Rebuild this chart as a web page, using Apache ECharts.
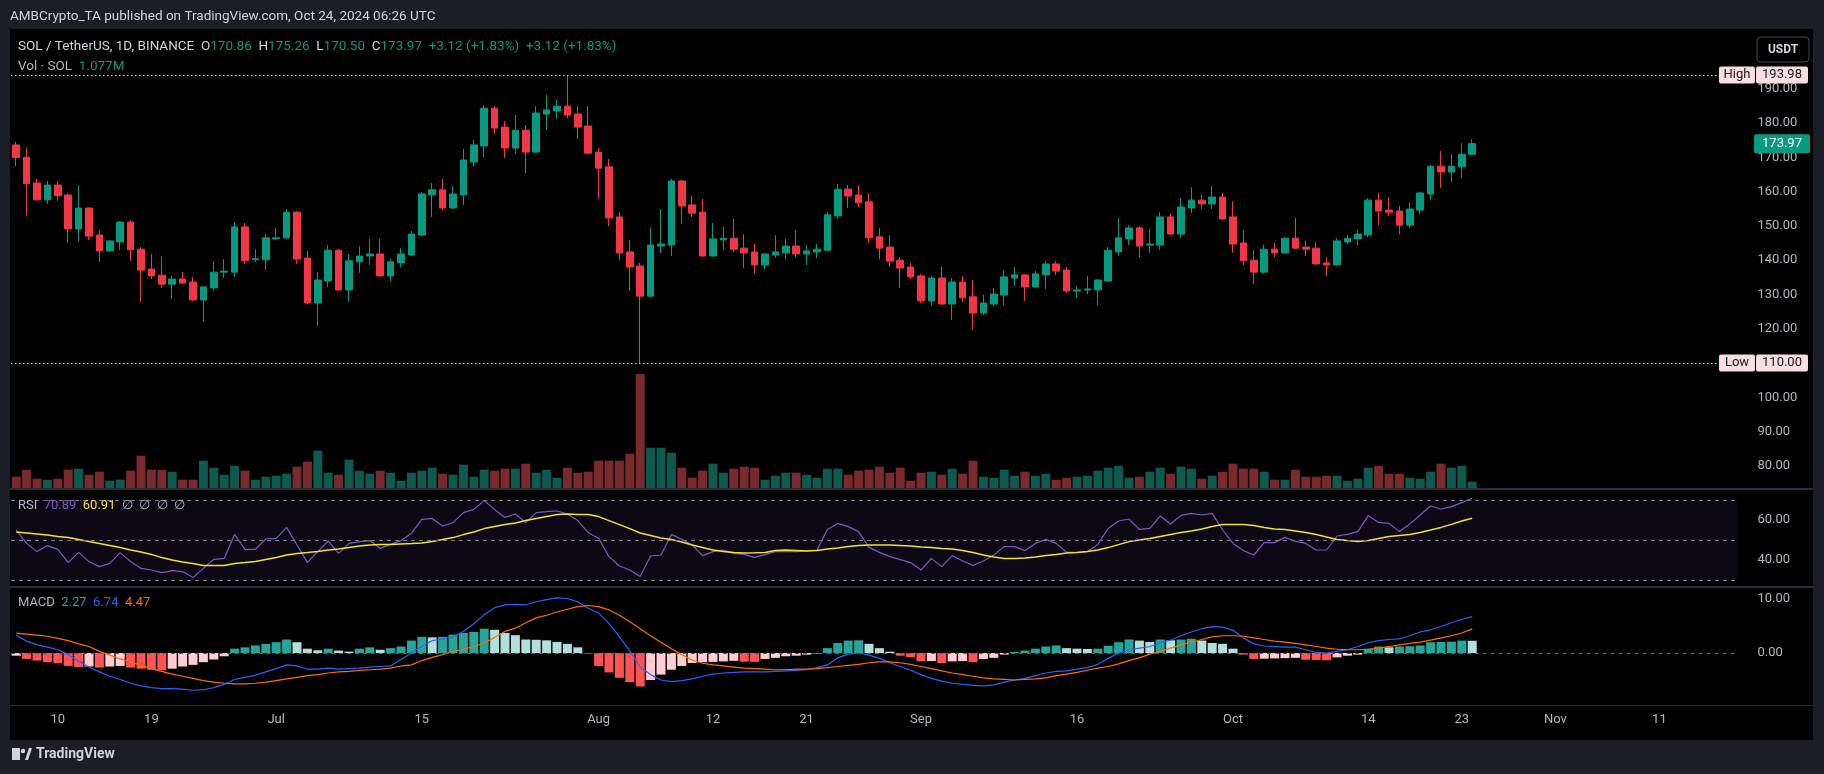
<!DOCTYPE html>
<html><head><meta charset="utf-8">
<script src="https://cdn.jsdelivr.net/npm/echarts@6/dist/echarts.min.js"></script>
<style>html,body{margin:0;padding:0;background:#000;}#c{width:1824px;height:774px;}</style>
</head><body><div id="c"></div>
<script>
// ---------- DATA ----------
const startDate = '2024-06-06';
const totalSlots = 166;
const open  = [173.6,170.0,162.5,157.6,161.9,159.0,149.1,155.2,147.3,142.7,145.3,151.1,143.2,137.4,135.6,133.0,134.5,133.6,128.4,131.9,136.5,136.5,149.7,140.1,140.1,146.2,146.5,154.0,140.6,127.5,133.9,142.9,131.3,139.5,141.2,141.8,135.4,139.2,141.5,147.3,159.0,160.5,155.2,159.0,168.6,173.3,184.3,178.8,172.7,177.9,171.5,182.6,183.5,184.9,182.6,179.1,171.5,167.2,152.6,142.4,138.3,129.5,144.1,144.4,163.1,156.1,154.0,141.2,145.9,146.4,143.5,142.4,138.6,141.5,142.1,144.1,141.8,142.4,142.9,152.9,160.7,159.0,157.0,146.8,143.8,140.0,138.0,135.4,128.1,134.8,127.2,133.6,129.3,124.6,127.2,129.8,134.8,135.7,132.2,135.7,138.9,137.1,131.0,131.3,131.3,133.9,142.4,146.2,149.4,144.4,144.4,152.6,147.6,155.2,157.5,156.4,158.4,152.6,145.0,140.0,136.5,143.2,142.1,146.4,143.8,143.5,139.2,138.6,145.3,146.2,147.3,157.5,154.6,154.3,150.2,154.6,159.3,167.4,165.7,167.2,170.86];
const high  = [174.5,172.8,163.7,163.1,163.1,159.5,161.9,155.4,148.6,145.8,151.4,151.7,143.8,141.8,141.2,135.4,136.5,135.1,132.4,139.7,140.3,151.1,150.8,143.2,147.6,149.4,154.9,154.3,142.7,136.5,144.4,143.2,141.8,144.1,146.2,146.2,140.3,143.5,148.5,159.9,162.5,163.7,161.6,172.4,175.0,185.2,184.9,180.6,182.3,179.4,184.9,188.1,186.7,193.98,184.9,184.9,172.7,169.5,154.0,145.9,139.2,149.4,154.9,163.7,163.4,158.7,157.8,150.8,149.7,152.0,147.6,144.7,142.0,147.3,146.2,148.8,144.4,144.7,154.0,162.2,161.9,161.9,159.6,149.4,147.3,140.9,139.2,136.0,135.4,138.0,134.8,135.4,134.2,129.9,131.9,137.1,138.0,136.0,136.8,139.7,139.7,138.0,132.5,135.4,134.5,143.8,152.3,150.2,149.9,149.1,154.0,153.7,158.1,161.3,159.3,161.6,159.6,157.2,148.8,142.9,144.4,145.0,146.7,152.3,145.6,145.3,140.9,146.4,147.3,148.8,158.1,159.6,158.4,155.8,156.7,159.9,167.7,171.8,170.9,174.1,175.26];
const low   = [167.4,153.0,157.3,156.4,157.3,145.1,145.4,145.9,139.5,142.5,142.9,139.8,127.9,134.5,131.9,128.6,133.1,128.1,122.1,131.0,134.8,135.1,138.9,139.5,137.1,145.9,146.2,138.9,127.2,120.8,132.2,131.1,127.8,136.3,138.6,135.2,133.9,138.0,141.3,147.0,152.6,154.6,154.9,156.1,167.2,170.1,176.8,169.8,170.9,165.4,171.3,177.9,181.1,181.4,175.3,171.0,157.8,149.9,140.0,131.0,110.0,129.2,142.1,141.2,150.5,152.6,141.0,141.0,142.9,142.4,137.7,136.0,137.4,140.6,140.3,140.9,138.6,140.6,142.7,152.0,155.2,155.5,145.0,140.3,138.0,131.9,134.5,127.5,126.6,127.0,122.6,127.8,119.9,124.0,126.6,126.9,132.5,128.1,132.0,131.6,135.7,130.4,129.0,130.1,126.9,133.7,141.2,144.4,140.9,142.1,143.0,147.3,146.5,153.7,154.9,154.9,151.7,142.1,138.6,133.0,136.0,140.9,141.8,143.3,141.2,138.6,135.4,138.4,144.7,144.4,146.7,150.2,152.9,147.6,149.4,153.5,157.5,161.0,162.8,164.0,170.50];
const close = [169.9,162.3,157.6,161.9,158.8,149.1,155.2,147.0,142.7,145.6,151.1,143.0,137.1,135.4,133.0,134.5,133.3,128.4,132.2,136.5,136.8,149.7,139.8,140.4,146.5,146.5,154.0,140.3,127.5,134.2,142.9,131.3,139.8,141.2,141.8,135.4,139.5,141.8,147.6,159.3,160.5,155.2,159.3,169.2,173.6,184.3,178.5,172.7,177.9,171.5,182.9,183.8,184.9,182.3,178.8,171.2,166.8,152.3,142.1,138.0,129.5,144.4,144.7,163.1,155.8,153.7,141.2,146.2,146.4,143.2,142.1,138.6,141.8,142.4,144.1,141.8,142.7,143.2,153.2,160.7,158.7,156.7,146.5,143.5,139.7,137.7,135.1,128.1,134.8,127.2,133.6,129.0,124.6,127.5,130.1,135.1,135.7,132.2,136.0,138.9,136.8,131.0,131.3,131.6,134.2,142.9,146.5,149.4,144.1,144.7,152.6,147.6,155.5,157.5,156.4,158.4,152.0,144.7,139.8,136.5,143.2,142.1,146.4,143.5,143.2,138.9,138.6,145.6,146.4,147.6,157.5,154.3,154.0,150.2,154.9,159.6,167.4,165.7,167.4,170.86,173.97];
const volume = [1.93,3.13,1.59,1.42,1.59,3.13,3.30,2.27,2.79,1.25,1.42,2.96,5.52,3.13,3.13,2.79,1.42,1.42,4.67,3.47,2.27,3.81,2.96,1.42,1.93,2.10,2.45,3.64,4.50,6.38,2.62,2.27,4.84,2.96,2.45,2.96,2.62,1.25,2.62,2.96,3.47,2.45,2.27,3.98,1.93,3.13,2.96,3.30,3.30,4.16,2.62,3.13,1.76,3.47,2.62,2.79,4.67,4.67,4.67,5.87,19.49,6.89,6.89,6.04,3.47,1.76,2.96,4.16,2.62,3.30,3.64,3.47,1.42,2.10,2.62,2.62,2.27,1.76,3.30,3.30,2.27,2.96,3.13,3.64,2.62,3.47,1.25,2.62,2.79,2.27,3.30,2.45,4.67,1.93,1.76,3.13,2.10,2.79,2.10,2.45,1.42,1.76,1.93,2.10,2.96,3.47,3.81,1.76,1.93,2.79,3.47,2.45,3.64,3.30,1.59,2.10,2.79,4.16,3.30,3.30,2.79,1.42,1.42,3.13,1.93,1.93,2.10,2.10,1.25,1.59,3.47,3.81,2.45,2.45,1.76,1.59,2.79,4.16,3.47,3.81,1.077];
const rsi = [55,48.3,44.2,47.2,45.3,38.7,43.8,39.2,36.7,38.3,43.7,39.2,35.8,35,33.7,34.7,34.2,31.3,35.8,40.3,40.8,52.8,45.3,45.3,50.5,50.8,56.3,47.5,38.8,44.2,49.5,43.3,48.3,49.2,49.7,45.8,47.8,49.7,53.3,60.3,60.8,57,58.7,63.7,65.3,69.7,65.3,61.3,63,58.7,63.7,64.2,64.5,63,59.7,53.7,50.8,41.7,37,35,31.7,42,42.5,52.8,50.3,47.5,42.2,44.2,45,43.3,42.8,41.3,42.7,44.2,44.2,44.2,44.5,45,55.3,58.3,56.7,54.2,46.3,43.8,41.7,40.2,38.7,35,40.8,36.7,42.2,39.5,37.3,39.5,42.5,46.7,46.7,44.7,48.3,50.3,48.3,43.8,43.8,44.2,47.8,55.8,59.5,60.5,55.3,55.8,62,58,62.3,63.3,62.5,63.3,55,48.3,44.7,42.5,48.7,48.7,51.3,49.3,48.3,45,45,52,52.8,54.2,62.2,58.8,58.3,54.2,58,62.5,67,65.5,66.7,68.7,70.89];
const rsiMa = [54.0,53.5,53.0,52.5,51.8,51.2,50.3,49.3,48.3,47.3,46.2,45.0,44.0,42.8,41.2,40.0,39.0,38.2,37.3,37.2,37.3,38.2,38.7,39.3,40.3,41.3,42.5,43.3,43.7,44.3,45.0,45.5,46.2,47.0,47.5,47.7,47.8,48.0,48.2,48.5,49.2,50.2,51.2,52.7,54.0,55.7,56.7,57.7,58.5,59.7,60.8,61.8,62.8,63.0,62.8,62.7,61.7,59.7,57.7,55.7,53.5,52.3,51.0,50.2,49.0,47.5,46.2,45.0,44.3,43.7,43.5,43.6,43.8,44.7,45.0,44.8,44.5,44.8,45.5,46.0,46.7,47.2,47.5,47.5,47.5,47.3,47.0,46.5,46.2,45.7,45.5,44.8,43.7,42.5,41.5,40.8,40.8,41.0,41.5,42.2,42.8,43.5,43.8,44.2,45.0,46.2,47.7,49.2,50.0,50.7,51.7,52.7,53.7,54.5,55.5,56.7,57.7,57.8,57.8,57.3,56.3,55.5,55.2,54.5,53.7,52.8,51.5,50.3,49.7,49.2,49.7,50.7,51.7,52.3,52.8,53.8,55.0,56.3,57.8,59.5,60.91];
const macd = [3.3,2.2,1.5,1.1,0.6,-0.3,-1.5,-2.6,-3.5,-4.3,-4.9,-5.6,-6.1,-6.4,-6.6,-6.6,-6.7,-6.9,-6.8,-6.4,-5.8,-4.9,-4.5,-4.1,-3.5,-2.9,-2.2,-2.4,-3.0,-3.0,-2.8,-3.0,-2.9,-2.8,-2.6,-2.5,-2.4,-1.2,0.0,1.2,2.3,2.6,3.0,4.0,5.4,7.1,8.4,8.9,9.0,8.9,9.5,9.9,10.2,10.1,9.5,8.3,7.4,5.5,3.0,0.4,-2.6,-4.0,-5.0,-5.3,-5.1,-4.8,-4.3,-3.9,-3.7,-3.6,-3.5,-3.5,-3.5,-3.4,-3.3,-3.2,-3.1,-2.7,-2.2,-0.9,-0.2,0.0,-0.4,-1.0,-1.8,-2.5,-3.2,-4.0,-4.7,-5.2,-5.6,-5.8,-6.0,-6.1,-5.9,-5.4,-5.0,-4.7,-4.2,-3.7,-3.4,-3.3,-3.0,-2.7,-2.1,-1.0,0.0,0.6,0.9,1.2,1.85,2.4,3.2,3.9,4.5,4.9,4.8,4.2,2.8,1.7,1.3,1.2,1.1,1.1,0.6,0.1,0.0,0.3,0.6,1.2,1.9,2.3,2.5,2.6,3.2,3.9,4.3,4.9,5.6,6.2,6.74];
const signal = [3.7,3.5,3.3,3.1,2.7,2.3,1.7,1.2,0.3,-0.4,-1.1,-1.7,-2.3,-2.9,-3.4,-3.9,-4.3,-4.7,-5.1,-5.4,-5.6,-5.7,-5.7,-5.6,-5.4,-5.1,-4.8,-4.5,-4.2,-4.0,-3.7,-3.5,-3.4,-3.2,-3.1,-3.0,-2.8,-2.4,-2.2,-1.4,-0.8,-0.3,0.3,0.7,1.2,1.85,2.9,4.0,4.6,5.6,6.5,7.0,7.6,8.1,8.6,8.8,8.6,8.0,7.0,5.8,4.5,3.2,2.0,0.8,-0.3,-1.3,-1.9,-2.2,-2.4,-2.6,-2.8,-2.9,-3.0,-3.1,-3.1,-3.0,-3.0,-2.9,-2.7,-2.5,-2.3,-2.1,-1.8,-1.65,-1.65,-1.8,-2.1,-2.5,-2.9,-3.3,-3.7,-4.0,-4.3,-4.6,-4.8,-4.9,-5.0,-4.9,-4.8,-4.6,-4.2,-3.9,-3.6,-3.2,-2.8,-2.5,-2.0,-1.4,-0.9,-0.2,0.3,0.9,1.5,2.0,2.5,3.0,3.2,3.2,3.1,2.8,2.5,2.2,2.0,1.8,1.5,1.2,0.9,0.7,0.6,0.6,0.7,0.9,1.2,1.5,1.8,2.0,2.4,2.8,3.2,3.7,4.47];
const hist = [-0.5,-1.1,-1.4,-1.7,-1.9,-2.4,-2.6,-2.5,-2.7,-2.5,-2.4,-2.7,-2.9,-3.1,-3.2,-2.9,-2.5,-2.2,-1.7,-1.2,-0.6,0.8,1.05,1.4,1.7,2.0,2.5,2.0,0.8,0.5,0.8,0.45,0.25,0.8,1.05,0.6,0.9,1.2,2.3,3.0,2.9,3.0,3.4,3.7,3.9,4.5,4.3,3.7,3.3,2.5,2.45,2.35,2.05,1.7,1.05,-0.1,-2.4,-3.6,-4.6,-5.4,-6.2,-5.0,-4.0,-3.1,-2.4,-1.85,-1.7,-1.65,-1.55,-1.45,-1.6,-1.65,-1.1,-0.9,-0.6,-0.5,-0.3,-0.1,0.9,1.85,2.3,2.35,1.7,0.9,0.25,-0.5,-0.8,-1.55,-1.5,-1.85,-1.55,-1.5,-1.7,-1.1,-0.9,-0.3,0.2,0.45,0.8,1.2,1.4,0.9,0.8,0.75,0.8,1.35,2.0,2.5,2.3,2.05,2.5,2.35,2.5,2.65,2.3,1.85,1.7,0.8,-0.3,-1.1,-1.05,-1.0,-0.95,-0.9,-1.25,-1.3,-1.35,-0.8,-0.5,-0.3,0.8,1.2,1.05,1.2,1.25,1.4,2.0,2.05,2.1,2.3,2.27];
const priceTicks = [80,90,100,110,120,130,140,150,160,170,180,190];
const rsiTicks = [40,60];
const macdTicks = [0,10];
const xTickDates = ['2024-06-10','2024-06-19','2024-07-01','2024-07-15','2024-08-01','2024-08-12','2024-08-21','2024-09-01','2024-09-16','2024-10-01','2024-10-14','2024-10-23','2024-11-01','2024-11-11'];
const xTickTexts = ['10','19','Jul','15','Aug','12','21','Sep','16','Oct','14','23','Nov','11'];

// ---------- BUILD ----------
const FONT = 'Roboto, "Open Sans", sans-serif';
const cats = [];
const d0 = new Date(startDate + 'T00:00:00Z');
for (let k = 0; k < totalSlots; k++) cats.push(new Date(d0.getTime() + k * 86400000).toISOString().slice(0, 10));
const tickMap = {};
xTickDates.forEach((d, k) => tickMap[d] = xTickTexts[k]);

const UP = '#089981', DN = '#f23645';
const candleData = open.map((o, k) => [o, close[k], low[k], high[k]]);
const volData = volume.map((v, k) => ({ value: v, itemStyle: { color: close[k] >= open[k] ? '#0e5a50' : '#7a2a2d' } }));
const histData = hist.map((h, k) => {
  const p = k > 0 ? hist[k - 1] : h;
  let c;
  if (h >= 0) c = h >= p ? '#26a69a' : '#b2dfdb';
  else c = h < p ? '#ff5252' : '#ffcdd2';
  return { value: h, itemStyle: { color: c } };
});

const L = 11, W = 1726.4;
const fmt = (list) => (v) => { const r = Math.round(v); return (Math.abs(v - r) < 1e-6 && list.indexOf(r) >= 0) ? r.toFixed(2) : ''; };
const axisLab = (list) => ({ show: true, color: '#b2b5be', fontSize: 13, fontFamily: FONT, margin: 20, formatter: fmt(list) });
const xa = (gi, showLab) => ({
  type: 'category', gridIndex: gi, data: cats, boundaryGap: true,
  axisLine: { show: false }, axisTick: { show: false }, splitLine: { show: false },
  axisLabel: showLab ? {
    show: true, color: '#b2b5be', fontSize: 13, fontFamily: FONT, margin: 6,
    interval: (i, v) => tickMap[v] !== undefined, formatter: (v) => tickMap[v] || ''
  } : { show: false }
});
const ya = (gi, min, max, interval, list) => ({
  type: 'value', gridIndex: gi, position: 'right', min, max, interval,
  axisLine: { show: false }, axisTick: { show: false }, splitLine: { show: false },
  axisLabel: list ? axisLab(list) : { show: false }
});

const chart = echarts.init(document.getElementById('c'));
chart.setOption({
  backgroundColor: '#000000',
  animation: false,
  grid: [
    { left: L, width: W, top: 29, height: 471.2 },
    { left: L, width: W, top: 300, height: 188 },
    { left: L, width: W, top: 480, height: 120 },
    { left: L, width: W, top: 588, height: 119.0 }
  ],
  xAxis: [xa(0, false), xa(1, false), xa(2, false), xa(3, true)],
  yAxis: [
    ya(0, 70, 207.40, 10, priceTicks),
    ya(1, 0, 32.14, null, null),
    ya(2, 20, 80, 10, rsiTicks),
    ya(3, -10, 12.04, 10, macdTicks)
  ],
  series: [
    { type: 'bar', xAxisIndex: 1, yAxisIndex: 1, data: volData, barWidth: 9, silent: true, z: 1 },
    {
      type: 'candlestick', xAxisIndex: 0, yAxisIndex: 0, data: candleData, barWidth: 7, z: 3,
      itemStyle: { color: UP, color0: DN, borderColor: UP, borderColor0: DN, borderWidth: 1 },
      markLine: {
        silent: true, symbol: 'none', label: { show: false },
        lineStyle: { type: [1.5, 2.5], color: '#e6d9da', width: 1 },
        data: [{ yAxis: 193.98 }, { yAxis: 110 }]
      }
    },
    {
      type: 'line', xAxisIndex: 2, yAxisIndex: 2, data: rsi, showSymbol: false, z: 3,
      lineStyle: { color: '#7e57c2', width: 1.2 },
      markArea: { silent: true, itemStyle: { color: 'rgba(126,87,194,0.1)' }, data: [[{ yAxis: 30 }, { yAxis: 70 }]] },
      markLine: { silent: true, symbol: 'none', label: { show: false },
        lineStyle: { type: [4, 4], color: '#787b86', width: 1 },
        data: [{ yAxis: 70 }, { yAxis: 50 }, { yAxis: 30 }] }
    },
    { type: 'line', xAxisIndex: 2, yAxisIndex: 2, data: rsiMa, showSymbol: false, z: 4, smooth: false,
      lineStyle: { color: '#f5e12f', width: 1.5 } },
    { type: 'bar', xAxisIndex: 3, yAxisIndex: 3, data: histData, barWidth: 9, z: 2,
      markLine: { silent: true, symbol: 'none', label: { show: false },
        lineStyle: { type: [4, 4], color: '#5d606b', width: 1 }, data: [{ yAxis: 0 }] } },
    { type: 'line', xAxisIndex: 3, yAxisIndex: 3, data: macd, showSymbol: false, z: 4, lineStyle: { color: '#2962ff', width: 1.2 } },
    { type: 'line', xAxisIndex: 3, yAxisIndex: 3, data: signal, showSymbol: false, z: 4, lineStyle: { color: '#ff6d00', width: 1.2 } }
  ]
});

// ---------- ANNOTATIONS (positions from the library's scales) ----------
const yHigh = chart.convertToPixel({ yAxisIndex: 0 }, 193.98);
const yLow = chart.convertToPixel({ yAxisIndex: 0 }, 110);
const yLast = chart.convertToPixel({ yAxisIndex: 0 }, close[close.length - 1]);
const FRAME = '#1b1e27';
const F13 = '13px ' + FONT, F135 = '13.5px ' + FONT;
const tag = (y, name, val) => ([
  { type: 'rect', shape: { x: 1719, y: y - 8.5, width: 36, height: 17, r: 2 }, style: { fill: '#f7dfe1' }, z: 100 },
  { type: 'text', style: { x: 1737, y: y, text: name, fill: '#131722', font: F13, align: 'center', verticalAlign: 'middle' }, z: 101 },
  { type: 'rect', shape: { x: 1756, y: y - 8.5, width: 52, height: 17, r: 2 }, style: { fill: '#f7dfe1' }, z: 100 },
  { type: 'text', style: { x: 1782, y: y, text: val, fill: '#131722', font: F13, align: 'center', verticalAlign: 'middle' }, z: 101 }
]);
const g = [
  { type: 'rect', shape: { x: 0, y: 0, width: 1824, height: 29 }, style: { fill: FRAME }, z: 90 },
  { type: 'rect', shape: { x: 0, y: 0, width: 10, height: 774 }, style: { fill: FRAME }, z: 90 },
  { type: 'rect', shape: { x: 1813, y: 0, width: 11, height: 774 }, style: { fill: FRAME }, z: 90 },
  { type: 'rect', shape: { x: 0, y: 740, width: 1824, height: 34 }, style: { fill: FRAME }, z: 90 },
  { type: 'rect', shape: { x: 10, y: 488, width: 1803, height: 2 }, style: { fill: '#2a2e39' }, z: 90 },
  { type: 'rect', shape: { x: 10, y: 586, width: 1803, height: 2 }, style: { fill: '#2a2e39' }, z: 90 },
  { type: 'rect', shape: { x: 10, y: 705, width: 1803, height: 1 }, style: { fill: '#2a2e39' }, z: 90 },
  { type: 'text', style: { x: 10, y: 17, text: 'AMBCrypto_TA published on TradingView.com, Oct 24, 2024 06:26 UTC', fill: '#d1d4dc', font: F135, verticalAlign: 'middle' }, z: 95 },
  { type: 'text', z: 95, style: { x: 18, y: 47, verticalAlign: 'middle', font: F135,
    text: '{w|SOL / TetherUS, 1D, BINANCE}  {w|O}{v|170.86}  {w|H}{v|175.26}  {w|L}{v|170.50}  {w|C}{v|173.97}  {v|+3.12 (+1.83%)}  {v|+3.12 (+1.83%)}',
    rich: { w: { fill: '#d1d4dc', font: F135 }, v: { fill: UP, font: F135 } } } },
  { type: 'text', z: 95, style: { x: 18, y: 67, verticalAlign: 'middle', font: F135,
    text: '{w|Vol · SOL}  {v|1.077M}', rich: { w: { fill: '#b2b5be', font: F135 }, v: { fill: UP, font: F135 } } } },
  { type: 'text', z: 95, style: { x: 18, y: 506, verticalAlign: 'middle', font: F13,
    text: '{w|RSI}  {p|70.89}  {y|60.91}  {w|∅}  {w|∅}  {w|∅}  {w|∅}',
    rich: { w: { fill: '#b2b5be', font: F13 }, p: { fill: '#7e57c2', font: F13 }, y: { fill: '#f5e12f', font: F13 } } } },
  { type: 'text', z: 95, style: { x: 18, y: 603, verticalAlign: 'middle', font: F13,
    text: '{w|MACD}  {t|2.27}  {b|6.74}  {o|4.47}',
    rich: { w: { fill: '#b2b5be', font: F13 }, t: { fill: '#26a69a', font: F13 }, b: { fill: '#2962ff', font: F13 }, o: { fill: '#ff6d00', font: F13 } } } },
  { type: 'rect', z: 95, shape: { x: 1757, y: 37, width: 52, height: 25, r: 4 }, style: { fill: '#000', stroke: '#434651', lineWidth: 1 } },
  { type: 'text', z: 96, style: { x: 1783, y: 49.5, text: 'USDT', fill: '#d1d4dc', font: 'bold 12px ' + FONT, align: 'center', verticalAlign: 'middle' } },
  { type: 'rect', z: 100, shape: { x: 1754, y: yLast - 9.5, width: 56, height: 19, r: 2 }, style: { fill: UP } },
  { type: 'text', z: 101, style: { x: 1782, y: yLast, text: close[close.length - 1].toFixed(2), fill: '#ffffff', font: F13, align: 'center', verticalAlign: 'middle' } },
  // TradingView logo (bottom-left)
  { type: 'rect', z: 95, shape: { x: 12, y: 748, width: 8, height: 12 }, style: { fill: '#d1d4dc' } },
  { type: 'circle', z: 95, shape: { cx: 23, cy: 751, r: 2.2 }, style: { fill: '#d1d4dc' } },
  { type: 'polygon', z: 95, shape: { points: [[25, 760], [29, 748], [32, 748], [28, 760]] }, style: { fill: '#d1d4dc' } },
  { type: 'text', z: 95, style: { x: 36, y: 754, text: 'TradingView', fill: '#d1d4dc', font: 'bold 14px ' + FONT, verticalAlign: 'middle' } }
].concat(tag(yHigh, 'High', '193.98'), tag(yLow, 'Low', '110.00'));
chart.setOption({ graphic: g });
</script>
</body></html>
